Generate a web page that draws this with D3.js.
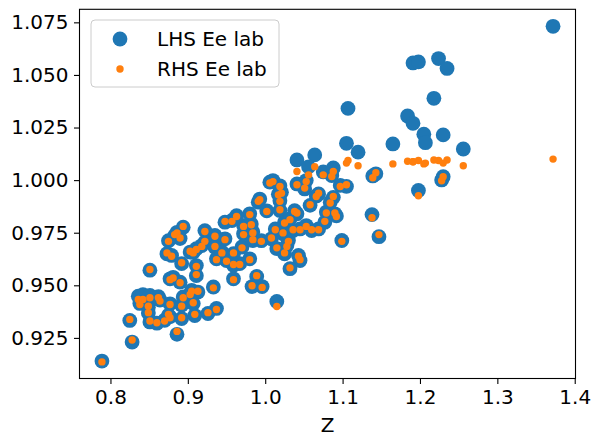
<!DOCTYPE html>
<html>
<head>
<meta charset="utf-8">
<script src="https://cdn.jsdelivr.net/npm/d3@7"></script>
<style>
  html, body { margin: 0; padding: 0; background: #fff; }
  svg { display: block; font-family: "DejaVu Sans", sans-serif; }
</style>
</head>
<body>
<svg id="chart" width="600" height="444"></svg>
<script>
// ---- data ----
const zValues = [
  // lower-left group
  0.789, 0.828, 0.825, 0.886, 0.851, 0.836, 0.842, 0.838, 0.851, 0.849,
  0.849, 0.851, 0.860, 0.862, 0.864, 0.870, 0.875, 0.877, 0.877, 0.892,
  0.892, 0.894, 0.903, 0.905, 0.913, 0.907, 0.909, 0.926, 0.937, 0.933,
  0.894, 0.886, 0.883, 0.890, 0.875, 0.873, 0.879, 0.892, 0.877, 0.881,
  0.890, 0.911, 0.911, 0.903, 0.907, 0.911, 0.959,
  // central group
  1.064, 1.041, 1.056, 1.053, 1.075, 1.086, 1.088, 1.105, 1.097, 1.006,
  1.010, 1.019, 1.017, 1.021, 1.041, 1.051, 1.066, 1.069, 1.058, 1.084,
  1.088, 1.079, 1.090, 1.092, 0.991, 0.993, 1.019, 1.019, 1.002, 0.980,
  0.982, 0.972, 0.963, 0.957, 0.948, 0.948, 0.935, 0.922, 0.922, 0.918,
  0.935, 0.937, 0.950, 0.959, 0.944, 0.970, 0.972, 0.984, 0.984, 0.995,
  1.013, 1.008, 1.015, 1.028, 1.025, 1.030, 1.023, 1.025, 1.032, 1.038,
  1.041, 1.036, 1.045, 1.053, 1.060, 1.069, 1.077, 1.043, 1.045, 1.032,
  0.980, 0.967, 0.959, 1.099,
  // remaining / right side
  0.983, 0.996, 0.989, 1.015, 1.138, 1.147, 1.139, 1.143, 1.228, 1.230, 1.198,
  1.372, 1.191, 1.198, 1.224, 1.235, 1.218, 1.107, 1.184, 1.191, 1.205,
  1.207, 1.230, 1.256, 1.165, 1.105, 1.120
];
const lhsValues = [
  0.9140, 0.9230, 0.9333, 0.9267, 0.9572, 0.9448, 0.9455, 0.9414, 0.9452, 0.9396,
  0.9368, 0.9326, 0.9320, 0.9446, 0.9430, 0.9334, 0.9358, 0.9350, 0.9412, 0.9405,
  0.9342, 0.9445, 0.9460, 0.9476, 0.9468, 0.9413, 0.9356, 0.9366, 0.9390, 0.9492,
  0.9776, 0.9752, 0.9736, 0.9722, 0.9712, 0.9650, 0.9642, 0.9603, 0.9531, 0.9538,
  0.9515, 0.9594, 0.9546, 0.9658, 0.9657, 0.9674, 0.9531,
  1.0120, 1.0096, 1.0063, 0.9998, 1.0039, 1.0022, 1.0058, 0.9970, 0.9975, 0.9990,
  0.9998, 0.9973, 0.9933, 0.9942, 0.9982, 0.9958, 0.9925, 0.9934, 0.9880, 0.9895,
  0.9918, 0.9848, 0.9840, 0.9830, 0.9895, 0.9910, 0.9902, 0.9856, 0.9854, 0.9840,
  0.9792, 0.9784, 0.9831, 0.9808, 0.9800, 0.9721, 0.9737, 0.9760, 0.9705, 0.9689,
  0.9681, 0.9626, 0.9618, 0.9650, 0.9658, 0.9682, 0.9745, 0.9753, 0.9713, 0.9712,
  0.9768, 0.9721, 0.9674, 0.9689, 0.9650, 0.9713, 0.9745, 0.9800, 0.9816, 0.9855,
  0.9840, 0.9760, 0.9768, 0.9784, 0.9760, 0.9768, 0.9800, 0.9642, 0.9618, 0.9579,
  0.9626, 0.9603, 0.9595, 0.9713,
  0.9494, 0.9494, 0.9542, 0.9423, 0.9836, 0.9731, 1.0020, 1.0030, 1.0001, 1.0016, 0.9951,
  1.0731, 1.0557, 1.0562, 1.0578, 1.0531, 1.0389, 1.0341, 1.0305, 1.0270, 1.0218,
  1.0178, 1.0215, 1.0148, 1.0172, 1.0175, 1.0133
];
const rhsValues = [
  0.9136, 0.9240, 0.9338, 0.9281, 0.9575, 0.9433, 0.9433, 0.9409, 0.9441, 0.9401,
  0.9370, 0.9330, 0.9322, 0.9441, 0.9425, 0.9330, 0.9362, 0.9346, 0.9409, 0.9401,
  0.9346, 0.9441, 0.9456, 0.9472, 0.9472, 0.9417, 0.9362, 0.9370, 0.9385, 0.9488,
  0.9780, 0.9749, 0.9741, 0.9725, 0.9709, 0.9654, 0.9638, 0.9607, 0.9527, 0.9535,
  0.9512, 0.9590, 0.9551, 0.9662, 0.9654, 0.9670, 0.9527,
  1.0064, 1.0041, 1.0025, 0.9993, 1.0025, 1.0017, 1.0041, 0.9978, 0.9970, 0.9986,
  0.9993, 0.9970, 0.9930, 0.9938, 0.9978, 0.9962, 0.9922, 0.9938, 0.9883, 0.9891,
  0.9922, 0.9844, 0.9844, 0.9827, 0.9899, 0.9907, 0.9899, 0.9859, 0.9851, 0.9836,
  0.9788, 0.9780, 0.9827, 0.9804, 0.9804, 0.9717, 0.9733, 0.9756, 0.9709, 0.9685,
  0.9685, 0.9622, 0.9614, 0.9654, 0.9654, 0.9678, 0.9741, 0.9749, 0.9717, 0.9709,
  0.9764, 0.9725, 0.9678, 0.9685, 0.9654, 0.9709, 0.9749, 0.9796, 0.9812, 0.9851,
  0.9844, 0.9764, 0.9764, 0.9780, 0.9764, 0.9764, 0.9804, 0.9638, 0.9622, 0.9583,
  0.9622, 0.9599, 0.9599, 0.9709,
  0.9498, 0.9490, 0.9546, 0.9399, 0.9821, 0.9741, 1.0011, 1.0035, 0.9997, 1.0016, 0.9926,
  1.0100, 1.0087, 1.0093, 1.0093, 1.0096, 1.0096, 1.0093, 1.0090, 1.0087, 1.0077,
  1.0081, 1.0081, 1.0068, 1.0077, 1.0081, 1.0068
];
const xTicks = [0.8, 0.9, 1.0, 1.1, 1.2, 1.3, 1.4];
const yTicks = [0.925, 0.950, 0.975, 1.000, 1.025, 1.050, 1.075];
const seriesNames = ["LHS Ee lab", "RHS Ee lab"];
const seriesColors = ["#1f77b4", "#ff7f0e"];
const xLabel = "Z";

// ---- layout ----
const plotLeft = 79.5, plotRight = 575.5, plotTop = 9.3, plotBottom = 378.5;
const fontSize = 20;
const bigR = 7.4, smallR = 3.7;

const svg = d3.select("#chart");
svg.append("rect").attr("width", 600).attr("height", 444).attr("fill", "#fff");

const x = d3.scaleLinear().domain([0.76, 1.401]).range([plotLeft, plotRight]);
const y = d3.scaleLinear().domain([0.9057, 1.0812]).range([plotBottom, plotTop]);

const pts = zValues.map((z, i) => ({ z, lhs: lhsValues[i], rhs: rhsValues[i] }));

// scatter: LHS (large blue) then RHS (small orange)
const plot = svg.append("g");
plot.selectAll("circle.lhs").data(pts).join("circle")
  .attr("class", "lhs")
  .attr("cx", d => x(d.z)).attr("cy", d => y(d.lhs))
  .attr("r", bigR).attr("fill", seriesColors[0]);
plot.selectAll("circle.rhs").data(pts).join("circle")
  .attr("class", "rhs")
  .attr("cx", d => x(d.z)).attr("cy", d => y(d.rhs))
  .attr("r", smallR).attr("fill", seriesColors[1]);

// axes
const xAxis = svg.append("g")
  .attr("transform", `translate(0,${plotBottom})`)
  .call(d3.axisBottom(x).tickValues(xTicks).tickFormat(d3.format(".1f")).tickSize(5.5).tickPadding(5.5));
const yAxis = svg.append("g")
  .attr("transform", `translate(${plotLeft},0)`)
  .call(d3.axisLeft(y).tickValues(yTicks).tickFormat(d3.format(".3f")).tickSize(5.5).tickPadding(5.5));

[xAxis, yAxis].forEach(g => {
  g.select(".domain").remove();
  g.selectAll(".tick line").attr("stroke", "#000").attr("stroke-width", 1.1);
  g.selectAll(".tick text")
    .attr("fill", "#000")
    .style("font-family", "'DejaVu Sans', sans-serif")
    .style("font-size", fontSize + "px");
});

// spines
svg.append("rect")
  .attr("x", plotLeft).attr("y", plotTop)
  .attr("width", plotRight - plotLeft).attr("height", plotBottom - plotTop)
  .attr("fill", "none").attr("stroke", "#000").attr("stroke-width", 1.1);

// x label
svg.append("text")
  .attr("x", (plotLeft + plotRight) / 2).attr("y", 432)
  .attr("text-anchor", "middle")
  .style("font-size", fontSize + "px")
  .attr("fill", "#000")
  .text(xLabel);

// legend
const legend = svg.append("g");
legend.append("rect")
  .attr("x", 91).attr("y", 20).attr("width", 188).attr("height", 67).attr("rx", 4)
  .attr("fill", "#fff").attr("fill-opacity", 0.8)
  .attr("stroke", "#cccccc").attr("stroke-width", 1);
const legendRows = [39, 69];
const legendR = [bigR, smallR];
seriesNames.forEach((name, i) => {
  legend.append("circle")
    .attr("cx", 120).attr("cy", legendRows[i])
    .attr("r", legendR[i]).attr("fill", seriesColors[i]);
  legend.append("text")
    .attr("x", 157).attr("y", legendRows[i] + 7)
    .style("font-size", fontSize + "px")
    .attr("fill", "#000")
    .text(name);
});
</script>
</body>
</html>
